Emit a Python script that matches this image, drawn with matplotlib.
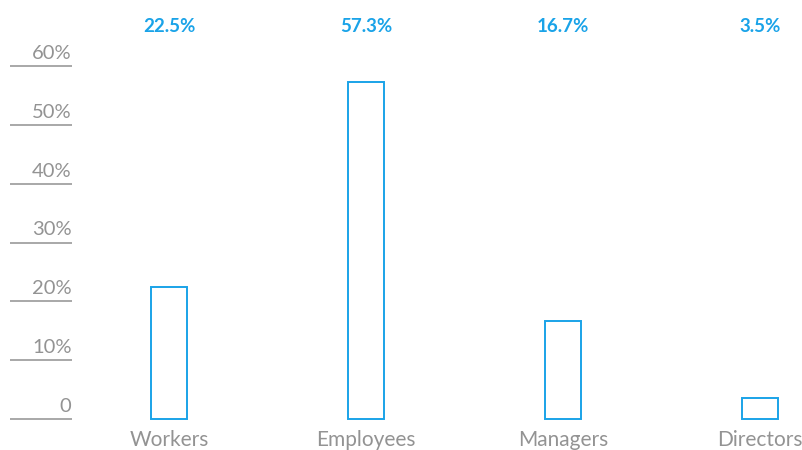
import matplotlib.pyplot as plt

categories = ['Workers', 'Employees', 'Managers', 'Directors']
shares = [22.5, 57.3, 16.7, 3.5]
value_labels = ['22.5%', '57.3%', '16.7%', '3.5%']
y_ticks = [0, 10, 20, 30, 40, 50, 60]
y_tick_labels = ['0', '10%', '20%', '30%', '40%', '50%', '60%']

BLUE = '#1aa3e8'
GREY_TEXT = '#939393'
GREY_LINE = '#9a9a9a'
FONT = ['Lato', 'DejaVu Sans']

fig = plt.figure(figsize=(8.03, 4.5), dpi=100)
ax = fig.add_axes([0, 0, 1, 1])
ax.set_xlim(-0.858, 3.218)
ax.set_ylim(-5.27, 71.22)
ax.axis('off')

x = list(range(len(categories)))
ax.bar(x, shares, width=0.18, facecolor='white', edgecolor=BLUE, linewidth=1.4)

# short rules under each y label
for t, lab in zip(y_ticks, y_tick_labels):
    ax.hlines(t, -0.807, -0.492, color=GREY_LINE, linewidth=1.2)
    ax.text(-0.495, t + 0.7, lab, ha='right', va='bottom', fontsize=14.5,
            color=GREY_TEXT, family=FONT)

for xi, lab in zip(x, value_labels):
    ax.text(xi, 66.8, lab, ha='center', va='center', fontsize=13.5,
            color=BLUE, family=FONT, fontweight='bold')

for xi, cat in zip(x, categories):
    ax.text(xi, -3.6, cat, ha='center', va='center', fontsize=15,
            color=GREY_TEXT, family=FONT)

fig.savefig('out.png', dpi=100)
